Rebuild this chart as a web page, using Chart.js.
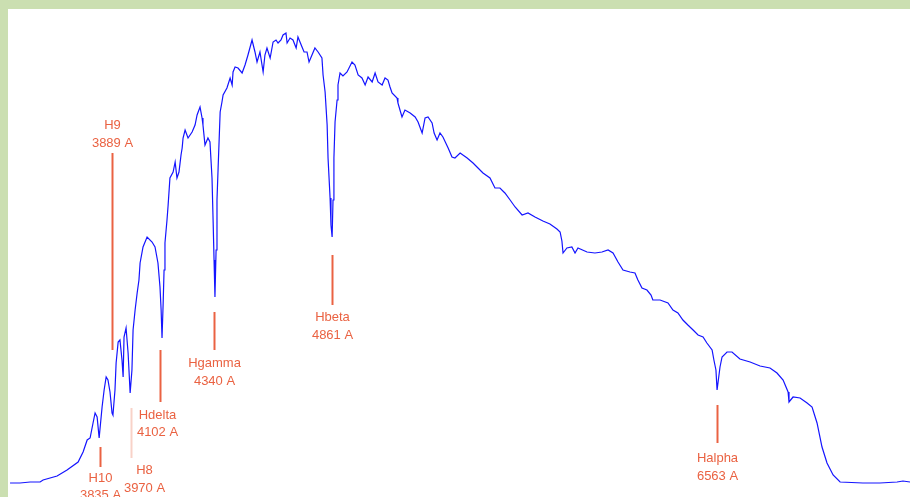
<!DOCTYPE html>
<html>
<head>
<meta charset="utf-8">
<title>Spectrum</title>
<script src="https://cdn.jsdelivr.net/npm/chart.js@4"></script>
<style>
  html, body { margin:0; padding:0; }
  body { width:910px; height:497px; background:#cbdfb1; position:relative; overflow:hidden; }
  #wrap { position:absolute; left:8px; top:9px; width:902px; height:488px; background:#fff; }
</style>
</head>
<body>
<div id="wrap"><canvas id="specChart"></canvas></div>

<script>
// ================= DATA =================
// wavelength (A)
const waves = [
  3437,3481,3526,3570,3583,3645,3689,3738,3760,3778,3791,3804,3813,3822,3831,3844,3853,3862,3870,3879,
  3888,3892,3901,3906,3915,3923,3932,3937,3941,3950,3959,3968,3976,3981,3990,3999,4007,4012,4025,4043,
  4065,4078,4091,4100,4105,4109,4114,4118,4122,4131,4136,4144,4158,4167,4175,4184,4193,4198,4202,4211,
  4224,4242,4255,4264,4277,4286,4290,4299,4312,4321,4330,4335,4339,4343,4348,4352,4357,4366,4374,4379,
  4396,4410,4419,4423,4432,4445,4463,4476,4489,4507,4520,4529,4542,4556,4564,4573,4587,4600,4613,4622,
  4635,4644,4657,4662,4675,4688,4702,4710,4728,4737,4750,4759,4772,4785,4799,4816,4821,4830,4839,4843,
  4852,4856,4861,4865,4869,4874,4883,4887,4896,4909,4927,4949,4962,4976,4993,5007,5020,5038,5051,5064,
  5082,5095,5108,5117,5126,5148,5152,5161,5170,5183,5206,5228,5241,5259,5272,5285,5303,5312,5325,5338,
  5351,5374,5391,5404,5427,5458,5484,5506,5528,5559,5581,5603,5625,5648,5670,5701,5727,5758,5793,5824,
  5855,5869,5877,5882,5899,5921,5935,5948,5988,6023,6054,6081,6103,6125,6147,6178,6200,6213,6231,6253,
  6271,6279,6311,6346,6368,6390,6412,6434,6457,6479,6501,6518,6541,6549,6558,6563,6567,6576,6585,6607,
  6629,6664,6709,6753,6797,6828,6855,6877,6881,6899,6930,6961,6983,7005,7027,7049,7076,7107,7208,7283,
  7359,7385,7416
];

// relative intensity
const flux = [
  -1,-1,0,0,2,6,12,20,30,42,44,59,69,65,44,75,92,105,102,90,
  69,67,92,119,140,142,122,105,145,154,129,89,112,152,172,189,202,219,235,245,
  240,235,219,195,172,144,179,212,239,262,277,304,310,320,304,310,327,334,344,352,
  344,350,357,367,375,364,357,337,344,340,304,260,222,185,232,282,314,370,380,387,
  394,404,397,410,415,414,409,417,427,442,430,420,430,410,427,434,424,440,442,439,
  442,447,449,439,444,442,434,445,435,430,430,420,427,434,430,424,407,390,357,324,
  284,257,245,282,324,360,382,397,409,406,410,420,417,407,404,397,405,400,409,400,
  397,404,402,395,389,384,379,372,365,372,369,365,360,349,364,365,359,349,342,349,
  345,334,325,324,329,324,319,314,309,304,294,294,289,282,275,267,269,265,261,258,
  253,250,241,229,234,235,229,234,230,229,230,232,229,220,212,210,209,202,194,192,
  187,182,182,179,172,169,162,157,152,147,145,139,132,122,112,92,92,115,125,130,
  130,123,120,116,114,109,102,90,80,85,84,79,75,59,35,19,7,0,-1,-1,
  0,1,0
];

// Balmer line markers
const lineNames = ["H10","H9","H8","Hdelta","Hgamma","Hbeta","Halpha"];
const lineWaves = [3835,3889,3970,4102,4340,4861,6563];

// marker layout (intensity units): tick from/to, label line 1 / line 2, text x shift (px)
const markerLayout = [
  { from:35,  to:15,  t1:4,   t2:-13, dx:0,  color:"#ea6242" },
  { from:329, to:132, t1:357, t2:339, dx:0,  color:"#ea6242" },
  { from:74,  to:24,  t1:12,  t2:-6,  dx:13, color:"#f8d2c8" },
  { from:132, to:80,  t1:67,  t2:50,  dx:-3, color:"#ea6242" },
  { from:170, to:132, t1:119, t2:101, dx:0,  color:"#ea6242" },
  { from:227, to:177, t1:165, t2:147, dx:0,  color:"#ea6242" },
  { from:77,  to:39,  t1:24,  t2:6,   dx:0,  color:"#ea6242" }
];


// ================= MARKER PLUGIN =================
const markerPlugin = {
  id: "balmerMarkers",
  afterDatasetsDraw(chart){

    const ctx = chart.ctx;
    const xs = chart.scales.x;
    const ys = chart.scales.y;

    ctx.save();
    ctx.font = "13px 'Liberation Sans', Arial, sans-serif";
    ctx.textAlign = "center";
    ctx.textBaseline = "middle";

    lineWaves.forEach((w, i) => {
      const m = markerLayout[i];
      const x = Math.round(xs.getPixelForValue(w)) + 0.5;

      // tick
      ctx.strokeStyle = m.color;
      ctx.lineWidth = 2;
      ctx.beginPath();
      ctx.moveTo(x, ys.getPixelForValue(m.from));
      ctx.lineTo(x, ys.getPixelForValue(m.to));
      ctx.stroke();

      // label
      ctx.fillStyle = "#ea6242";
      ctx.fillText(lineNames[i], x + m.dx, ys.getPixelForValue(m.t1));
      ctx.fillText(w + " A", x + m.dx, ys.getPixelForValue(m.t2));
    });

    ctx.restore();
  }
};


// ================= CHART =================
function drawChart(){

  const canvas = document.getElementById("specChart");

  new Chart(canvas, {
    type: "line",
    data: {
      datasets: [{
        label: "Spectrum",
        data: waves.map((w, i) => ({ x: w, y: flux[i] })),
        borderColor: "#1414ff",
        borderWidth: 1.2,
        pointRadius: 0,
        tension: 0,
        fill: false
      }]
    },
    options: {
      responsive: true,
      maintainAspectRatio: false,
      animation: false,
      layout: { padding: 0 },
      plugins: {
        legend: { display: false },
        tooltip: { enabled: false }
      },
      scales: {
        x: { type: "linear", min: 3428, max: 7416, display: false },
        y: { min: -15, max: 473, display: false }
      }
    },
    plugins: [markerPlugin]
  });

}

window.onload = () => {
  drawChart();
};
</script>
</body>
</html>
